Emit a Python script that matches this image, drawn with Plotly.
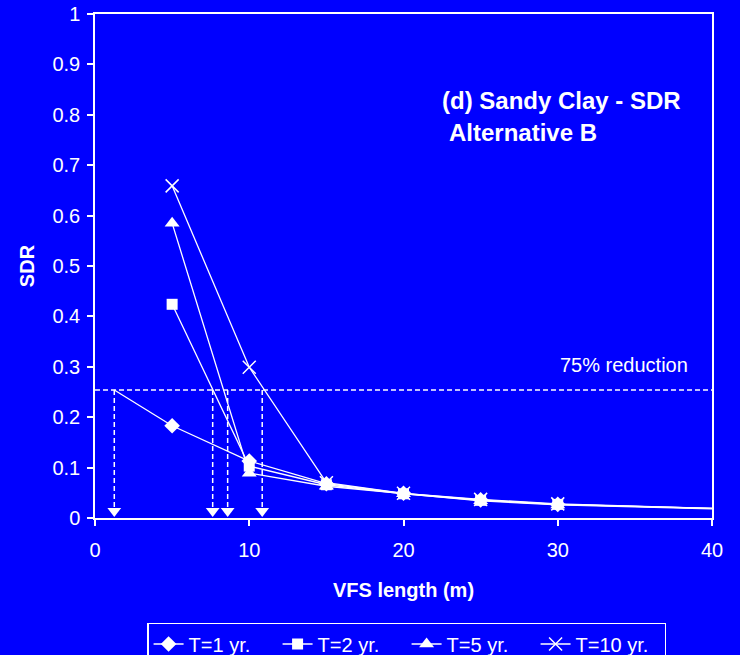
import plotly.graph_objects as go

# ---- data ----
vfs_length = [5, 10, 15, 20, 25, 30]
sdr_t1 = [0.183, 0.113, 0.068, 0.049, 0.036, 0.027]
sdr_t2 = [0.424, 0.103, 0.066, 0.048, 0.035, 0.027]
sdr_t5 = [0.585, 0.089, 0.063, 0.048, 0.034, 0.026]
sdr_t10 = [0.659, 0.299, 0.070, 0.049, 0.037, 0.028]
series_names = ["T=1 yr.", "T=2 yr.", "T=5 yr.", "T=10 yr."]

# continuation of the curves past the last marker (30 m -> 40 m)
tail_x = [30, 40]
tail_t1 = [0.027, 0.019]
tail_t2 = [0.027, 0.019]
tail_t5 = [0.026, 0.018]
tail_t10 = [0.028, 0.019]

# 75% reduction threshold and the lengths where each curve crosses it
reduction_level = 0.254
reduction_x = [1.25, 7.63, 8.6, 10.84]
t1_extrap_x = [1.25, 5]
t1_extrap_y = [0.254, 0.183]

x_range = [0, 40]
y_range = [0, 1]
x_ticks = [0, 10, 20, 30, 40]
y_ticks = [0, 0.1, 0.2, 0.3, 0.4, 0.5, 0.6, 0.7, 0.8, 0.9, 1]
y_tick_labels = ["0", "0.1", "0.2", "0.3", "0.4", "0.5", "0.6", "0.7", "0.8", "0.9", "1"]

BG = "#0000FF"
FG = "white"
FONT = "Liberation Sans, Arial, sans-serif"

fig = go.Figure()

# threshold line
fig.add_trace(go.Scatter(x=x_range, y=[reduction_level, reduction_level], mode="lines",
                         line=dict(color=FG, width=1.5, dash="5px,3px"),
                         showlegend=False, hoverinfo="skip"))
# vertical dashed drop lines
for rx in reduction_x:
    fig.add_trace(go.Scatter(x=[rx, rx], y=[reduction_level, 0.012], mode="lines",
                             line=dict(color=FG, width=1.5, dash="5px,3px"),
                             showlegend=False, hoverinfo="skip"))
# arrow heads
fig.add_trace(go.Scatter(x=reduction_x, y=[0.014] * len(reduction_x), mode="markers",
                         marker=dict(symbol="triangle-down", size=12, color=FG, line=dict(width=0)),
                         showlegend=False, hoverinfo="skip"))

# extrapolation of T=1 to the threshold
fig.add_trace(go.Scatter(x=t1_extrap_x, y=t1_extrap_y, mode="lines",
                         line=dict(color=FG, width=1.3), showlegend=False, hoverinfo="skip"))

tails = [tail_t1, tail_t2, tail_t5, tail_t10]
for t in tails:
    fig.add_trace(go.Scatter(x=tail_x, y=t, mode="lines",
                             line=dict(color=FG, width=1.3), showlegend=False, hoverinfo="skip"))

series = [sdr_t1, sdr_t2, sdr_t5, sdr_t10]
markers = [
    dict(symbol="diamond", size=12, color=FG, line=dict(width=0)),
    dict(symbol="square", size=11, color=FG, line=dict(width=0)),
    dict(symbol="triangle-up", size=13, color=FG, line=dict(width=0)),
    dict(symbol="x-thin-open", size=13, color=FG, line=dict(width=1.5, color=FG)),
]
for name, ys, mk in zip(series_names, series, markers):
    fig.add_trace(go.Scatter(x=vfs_length, y=ys, mode="lines+markers", name=name,
                             line=dict(color=FG, width=1.3), marker=mk))

axis_common = dict(showgrid=False, zeroline=False, showline=True, linecolor=FG, linewidth=1.5,
                   mirror=True, ticks="outside", ticklen=6, tickwidth=1.5, tickcolor=FG,
                   tickfont=dict(family=FONT, size=20, color=FG))

fig.update_layout(
    width=740, height=655,
    margin=dict(l=95, r=28, t=14, b=137, autoexpand=False),
    paper_bgcolor=BG, plot_bgcolor=BG,
    font=dict(family=FONT, color=FG),
    xaxis=dict(range=x_range, tickvals=x_ticks, ticklabelstandoff=7, **axis_common,
               title=dict(text="<b>VFS length (m)</b>", font=dict(family=FONT, size=20, color=FG), standoff=23)),
    yaxis=dict(range=y_range, tickvals=y_ticks, ticktext=y_tick_labels, ticklabelstandoff=3, **axis_common,
               title=dict(text="<b>SDR</b>", font=dict(family=FONT, size=20, color=FG), standoff=12)),
    legend=dict(orientation="h", x=0.505, xanchor="center", y=-0.2083, yanchor="top",
                bgcolor=BG, bordercolor=FG, borderwidth=1.5, entrywidth=84,
                font=dict(family=FONT, size=20, color=FG)),
    annotations=[
        dict(text="<b>(d) Sandy Clay - SDR</b>", xref="paper", yref="paper", x=0.559, y=0.829,
             xanchor="left", yanchor="middle", showarrow=False, font=dict(family=FONT, size=24, color=FG)),
        dict(text="<b>Alternative B</b>", xref="paper", yref="paper", x=0.570, y=0.764,
             xanchor="left", yanchor="middle", showarrow=False, font=dict(family=FONT, size=24, color=FG)),
        dict(text="75% reduction", xref="x", yref="y", x=34.3, y=0.304,
             xanchor="center", yanchor="middle", showarrow=False, font=dict(family=FONT, size=20, color=FG)),
    ],
)

fig.write_html("out.html")
